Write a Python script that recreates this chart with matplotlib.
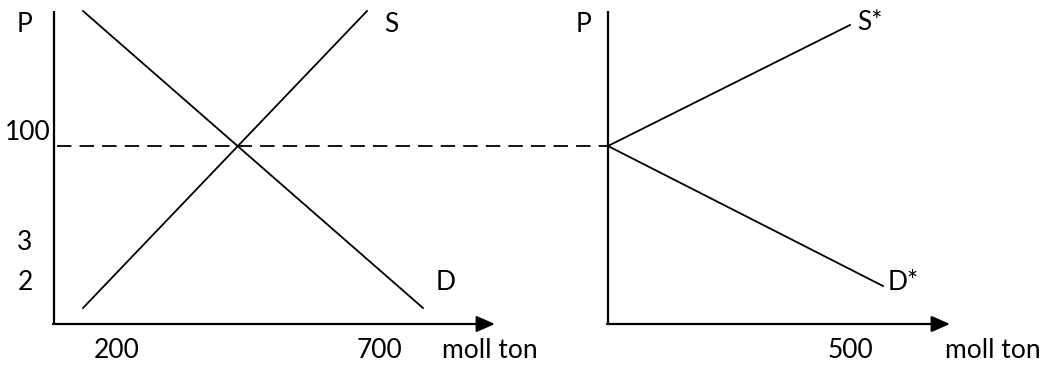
import matplotlib
matplotlib.use("Agg")
import matplotlib.pyplot as plt

# Settings
W, H = 1051, 365
FONT = "Lato"
FS = 19

# Left panel: world market (units = pixels from the origin)
d_q = [29, 369]
d_p = [313, 16]
s_q = [29, 313]
s_p = [16, 313]
p_world = 178
left_yticks = [("100", 191), ("3", 82), ("2", 41)]
left_xticks = [("200", 63), ("700", 326)]

# Right panel: domestic market
dstar_q = [0, 275]
dstar_p = [178, 38]
sstar_q = [0, 242]
sstar_p = [178, 299]
right_xticks = [("500", 242)]

fig = plt.figure(figsize=(W / 100, H / 100), dpi=100)
plt.rcParams["font.family"] = [FONT, "DejaVu Sans"]

ax1 = fig.add_axes([0, 0, 560 / W, 1])
ax1.set_xlim(-54, 506)
ax1.set_ylim(-41, 324)
ax2 = fig.add_axes([560 / W, 0, 491 / W, 1])
ax2.set_xlim(-48, 443)
ax2.set_ylim(-41, 324)


def draw_axes(ax, xlen, ylen):
    ax.axis("off")
    ax.plot([0, 0], [0, ylen], color="black", lw=1.6, solid_capstyle="butt")
    ax.annotate("", xy=(xlen, 0), xytext=(-1, 0),
                arrowprops=dict(arrowstyle="-|>,head_length=0.8,head_width=0.35",
                                mutation_scale=14, lw=1.6, color="black",
                                shrinkA=0, shrinkB=0))


draw_axes(ax1, 441, 313)
draw_axes(ax2, 342, 313)

ax1.plot(d_q, d_p, color="black", lw=1.3)
ax1.plot(s_q, s_p, color="black", lw=1.3)
ax1.plot([3, 554], [p_world, p_world], color="black", lw=1.3,
         dashes=(8, 4.5), clip_on=False)

ax2.plot(dstar_q, dstar_p, color="black", lw=1.3)
ax2.plot(sstar_q, sstar_p, color="black", lw=1.3)

kw = dict(fontsize=FS, va="center", color="black")
ax1.text(-29, 299, "P", ha="center", **kw)
for lab, y in left_yticks:
    ax1.text(-26 if lab == "100" else -29, y, lab, ha="center", **kw)
for lab, x in left_xticks:
    ax1.text(x, -26, lab, ha="center", **kw)
ax1.text(388, -26, "moll ton", ha="left", **kw)
ax1.text(337, 299, "S", ha="center", **kw)
ax1.text(392, 41, "D", ha="center", **kw)

ax2.text(-25, 299, "P", ha="center", **kw)
for lab, x in right_xticks:
    ax2.text(x, -26, lab, ha="center", **kw)
ax2.text(337, -26, "moll ton", ha="left", **kw)
ax2.text(249, 301, "S*", ha="left", **kw)
ax2.text(280, 41, "D*", ha="left", **kw)

fig.savefig("out.png", dpi=100)
